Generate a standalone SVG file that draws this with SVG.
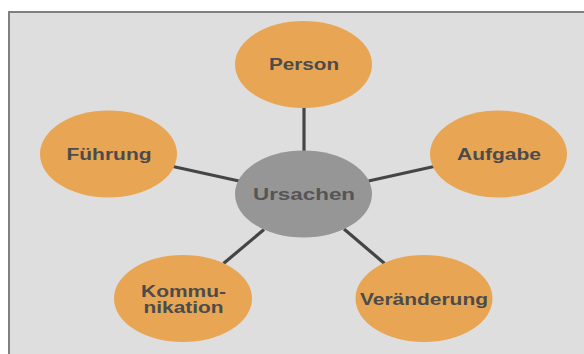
<svg xmlns="http://www.w3.org/2000/svg" width="584" height="354" viewBox="0 0 584 354">
<style>
.bg{fill:#dedede;stroke:#808080;stroke-width:2}
.leaf{fill:#e8a553}
.hub{fill:#969696}
.lbl{font-family:"Liberation Sans",Arial,sans-serif;font-weight:bold;font-size:16px;fill:#4b4b4b;text-anchor:middle}
.hubl{fill:#555555}
.con line{stroke:#454545;stroke-width:3.2}
</style>
<rect class="bg" x="9" y="12" width="590" height="360"/>
<g id="connectors" class="con">
<line x1="304" y1="107" x2="304" y2="152"/>
<line x1="173" y1="166.5" x2="239" y2="181"/>
<line x1="368.5" y1="181" x2="434" y2="166.5"/>
<line x1="223.5" y1="263.5" x2="264" y2="229.5"/>
<line x1="344" y1="229" x2="384.5" y2="263.5"/>
</g>
<g id="person"><ellipse class="leaf" cx="303.5" cy="64.5" rx="68.5" ry="43.5"/><text class="lbl" x="304" y="69.5" textLength="70" lengthAdjust="spacingAndGlyphs">Person</text></g>
<g id="fuehrung"><ellipse class="leaf" cx="108.5" cy="154" rx="68.5" ry="43.5"/><text class="lbl" x="109" y="160" textLength="85" lengthAdjust="spacingAndGlyphs">Führung</text></g>
<g id="aufgabe"><ellipse class="leaf" cx="498.5" cy="154" rx="68.5" ry="43.5"/><text class="lbl" x="499" y="160" textLength="84" lengthAdjust="spacingAndGlyphs">Aufgabe</text></g>
<g id="ursachen"><ellipse class="hub" cx="303.5" cy="194" rx="68.5" ry="43.5"/><text class="lbl hubl" x="304" y="200" textLength="102" lengthAdjust="spacingAndGlyphs">Ursachen</text></g>
<g id="kommunikation"><ellipse class="leaf" cx="183" cy="298.5" rx="69" ry="43.5"/><text class="lbl" x="183.5" y="296.5" textLength="85" lengthAdjust="spacingAndGlyphs">Kommu-</text><text class="lbl" x="183.5" y="312.5" textLength="80" lengthAdjust="spacingAndGlyphs">nikation</text></g>
<g id="veraenderung"><ellipse class="leaf" cx="424" cy="298.5" rx="68.5" ry="43.5"/><text class="lbl" x="424" y="305" textLength="128" lengthAdjust="spacingAndGlyphs">Veränderung</text></g>
</svg>
